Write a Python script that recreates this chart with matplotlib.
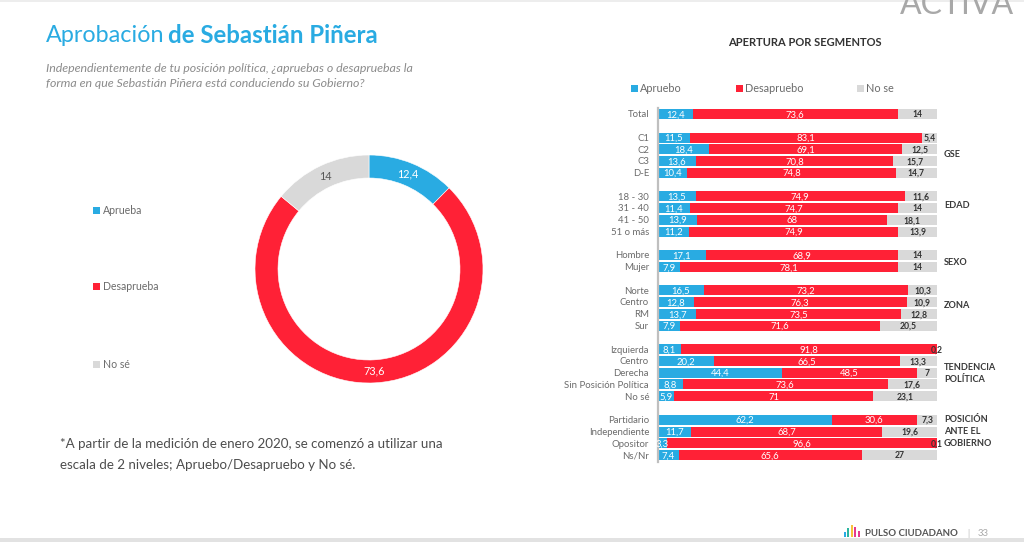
import numpy as np
import matplotlib
matplotlib.use('Agg')
import matplotlib.pyplot as plt
from matplotlib.patches import Rectangle

plt.rcParams['font.family'] = ['Lato', 'DejaVu Sans']

# Datos generales
TOTAL_LABELS = ['Aprueba', 'Desaprueba', 'No sé']
TOTAL_VALUES = [12.4, 73.6, 14]

# Segmentos (None = fila vacia entre grupos)
SEGMENTS = ['Total', None,
            'C1', 'C2', 'C3', 'D-E', None,
            '18 - 30', '31 - 40', '41 - 50', '51 o más', None,
            'Hombre', 'Mujer', None,
            'Norte', 'Centro', 'RM', 'Sur', None,
            'Izquierda', 'Centro', 'Derecha', 'Sin Posición Política', 'No sé', None,
            'Partidario', 'Independiente', 'Opositor', 'Ns/Nr']
APRUEBO = [12.4, None,
           11.5, 18.4, 13.6, 10.4, None,
           13.5, 11.4, 13.9, 11.2, None,
           17.1, 7.9, None,
           16.5, 12.8, 13.7, 7.9, None,
           8.1, 20.2, 44.4, 8.8, 5.9, None,
           62.2, 11.7, 3.3, 7.4]
DESAPRUEBO = [73.6, None,
              83.1, 69.1, 70.8, 74.8, None,
              74.9, 74.7, 68, 74.9, None,
              68.9, 78.1, None,
              73.2, 76.3, 73.5, 71.6, None,
              91.8, 66.5, 48.5, 73.6, 71, None,
              30.6, 68.7, 96.6, 65.6]
NO_SE = [14, None,
         5.4, 12.5, 15.7, 14.7, None,
         11.6, 14, 18.1, 13.9, None,
         14, 14, None,
         10.3, 10.9, 12.8, 20.5, None,
         0.2, 13.3, 7, 17.6, 23.1, None,
         7.3, 19.6, 0.1, 27]
BAR_LEGEND = ['Apruebo', 'Desapruebo', 'No se']

BLUE = '#29ABE2'
RED = '#FF2136'
GREY = '#D9D9D9'
TXT = '#6B6B6B'
W, H = 1024, 542


def fmt(v):
    return f'{v:g}'.replace('.', ',')


def axes_px(fig, x0, y0, x1, y1):
    # caja en pixeles de la imagen, y hacia abajo
    return fig.add_axes([x0 / W, 1 - y1 / H, (x1 - x0) / W, (y1 - y0) / H])


fig = plt.figure(figsize=(W / 100, H / 100), dpi=100, facecolor='white')

# capa de pagina en pixeles
page = fig.add_axes([0, 0, 1, 1])
page.set_xlim(0, W)
page.set_ylim(H, 0)
page.axis('off')

page.add_patch(Rectangle((0, 0), W, 1.5, color='#EDEDED', lw=0))
page.add_patch(Rectangle((0, 537.5), W, 4.5, color='#E2E2E2', lw=0))

page.text(46, 35.5, 'Aprobación', color=BLUE, fontsize=16.8, va='center')
page.text(168, 35.5, 'de Sebastián Piñera', color=BLUE, fontsize=17.3, va='center', fontweight='bold')
page.text(46, 69, 'Independientemente de tu posición política, ¿apruebas o desapruebas la',
          color='#8C8C8C', fontsize=8.95, style='italic', va='center')
page.text(46, 83.5, 'forma en que Sebastián Piñera está conduciendo su Gobierno?',
          color='#8C8C8C', fontsize=8.95, style='italic', va='center')
page.text(60, 444, '*A partir de la medición de enero 2020, se comenzó a utilizar una',
          color='#4D4D4D', fontsize=9.65, va='center')
page.text(60, 465, 'escala de 2 niveles; Apruebo/Desapruebo y No sé.',
          color='#4D4D4D', fontsize=9.65, va='center')
page.text(805, 42, 'APERTURA POR SEGMENTOS', color='#333333', fontsize=8,
          fontweight='bold', ha='center', va='center')

# leyenda de la dona
for lab, col, y in zip(TOTAL_LABELS, [BLUE, RED, GREY], [210, 286, 364]):
    page.add_patch(Rectangle((93, y - 3), 6.5, 6.5, color=col, lw=0))
    page.text(103, y, lab, color=TXT, fontsize=7.6, va='center')

# leyenda de las barras
for lab, col, x in zip(BAR_LEGEND, [BLUE, RED, GREY], [631, 736, 857]):
    page.add_patch(Rectangle((x, 85), 7, 7, color=col, lw=0))
    page.text(x + 9, 88, lab, color=TXT, fontsize=7.8, va='center')

# etiquetas de grupo
groups = [('GSE', 154.5), ('EDAD', 205), ('SEXO', 262.5), ('ZONA', 305.5),
          ('TENDENCIA', 367.5), ('POLÍTICA', 379.5),
          ('POSICIÓN', 419.5), ('ANTE EL', 431.5), ('GOBIERNO', 443.5)]
for lab, y in groups:
    page.text(944, y, lab, color='#3A3A3A', fontsize=6.6, fontweight='bold', va='center')

# pie de pagina y logo
logo = [(843.5, 2, 5, '#29ABE2'), (847, 2, 9, '#2BB5A0'), (850.5, 2, 12, '#F7C23C'),
        (854, 2, 10, '#E5398F'), (857.5, 2, 6, '#E5398F')]
for x, bw, bh, col in logo:
    page.add_patch(Rectangle((x, 537 - bh), bw, bh, color=col, lw=0))
page.text(865, 533.5, 'PULSO CIUDADANO', color='#555555', fontsize=6.9, fontweight='bold', va='center')
page.text(968, 533.5, '|', color='#BBBBBB', fontsize=6.4, va='center', ha='center')
page.text(978, 533.5, '33', color='#AAAAAA', fontsize=6.9, va='center')
page.text(957, 5, 'ACTIVA', color='#A8A8A8', fontsize=23, va='center', ha='center')

# dona
ax = axes_px(fig, 369 - 115, 269 - 115, 369 + 115, 269 + 115)
ax.pie(TOTAL_VALUES, colors=[BLUE, RED, GREY], startangle=90, counterclock=False,
       radius=114 / 115, wedgeprops={'width': 23 / 115, 'edgecolor': 'white', 'linewidth': 0.4})
ax.set_xlim(-1, 1)
ax.set_ylim(-1, 1)
acum = np.cumsum(TOTAL_VALUES) - np.array(TOTAL_VALUES) / 2
for v, a, col in zip(TOTAL_VALUES, acum, ['white', 'white', '#595959']):
    ang = a / 100 * 2 * np.pi
    ax.text(0.89 * np.sin(ang), 0.89 * np.cos(ang), fmt(v), color=col, fontsize=7.8,
            ha='center', va='center')

# barras por segmento
ax2 = axes_px(fig, 658, 108, 937, 462)
ax2.patch.set_alpha(0)
y0 = (114 - 108) / 11.76
ax2.set_xlim(0, 100)
ax2.set_ylim((462 - 108) / 11.76 - y0, -y0)
ax2.axis('off')
ax2.plot([0, 0], [ax2.get_ylim()[0], ax2.get_ylim()[1]], color='#BFBFBF', lw=1.6,
         clip_on=False, zorder=3)
dy = 0.07  # ajuste vertical del texto
for i, seg in enumerate(SEGMENTS):
    if seg is None:
        continue
    a, d, n = APRUEBO[i], DESAPRUEBO[i], NO_SE[i]
    ax2.barh(i, a, height=0.85, color=BLUE, lw=0)
    ax2.barh(i, d, left=a, height=0.85, color=RED, lw=0)
    ax2.barh(i, n, left=a + d, height=0.85, color=GREY, lw=0)
    ax2.text(a / 2, i + dy, fmt(a), color='white', fontsize=6.8, ha='center', va='center', clip_on=False)
    ax2.text(a + d / 2, i + dy, fmt(d), color='white', fontsize=6.8, ha='center', va='center')
    ax2.text(a + d + n / 2, i + dy, fmt(n), color='#333333', fontsize=6.2, fontweight='bold',
             ha='center', va='center', clip_on=False)
    ax2.text(-3.2, i + dy, seg, color=TXT, fontsize=6.9, ha='right', va='center', clip_on=False)

fig.savefig('out.png', dpi=100)
